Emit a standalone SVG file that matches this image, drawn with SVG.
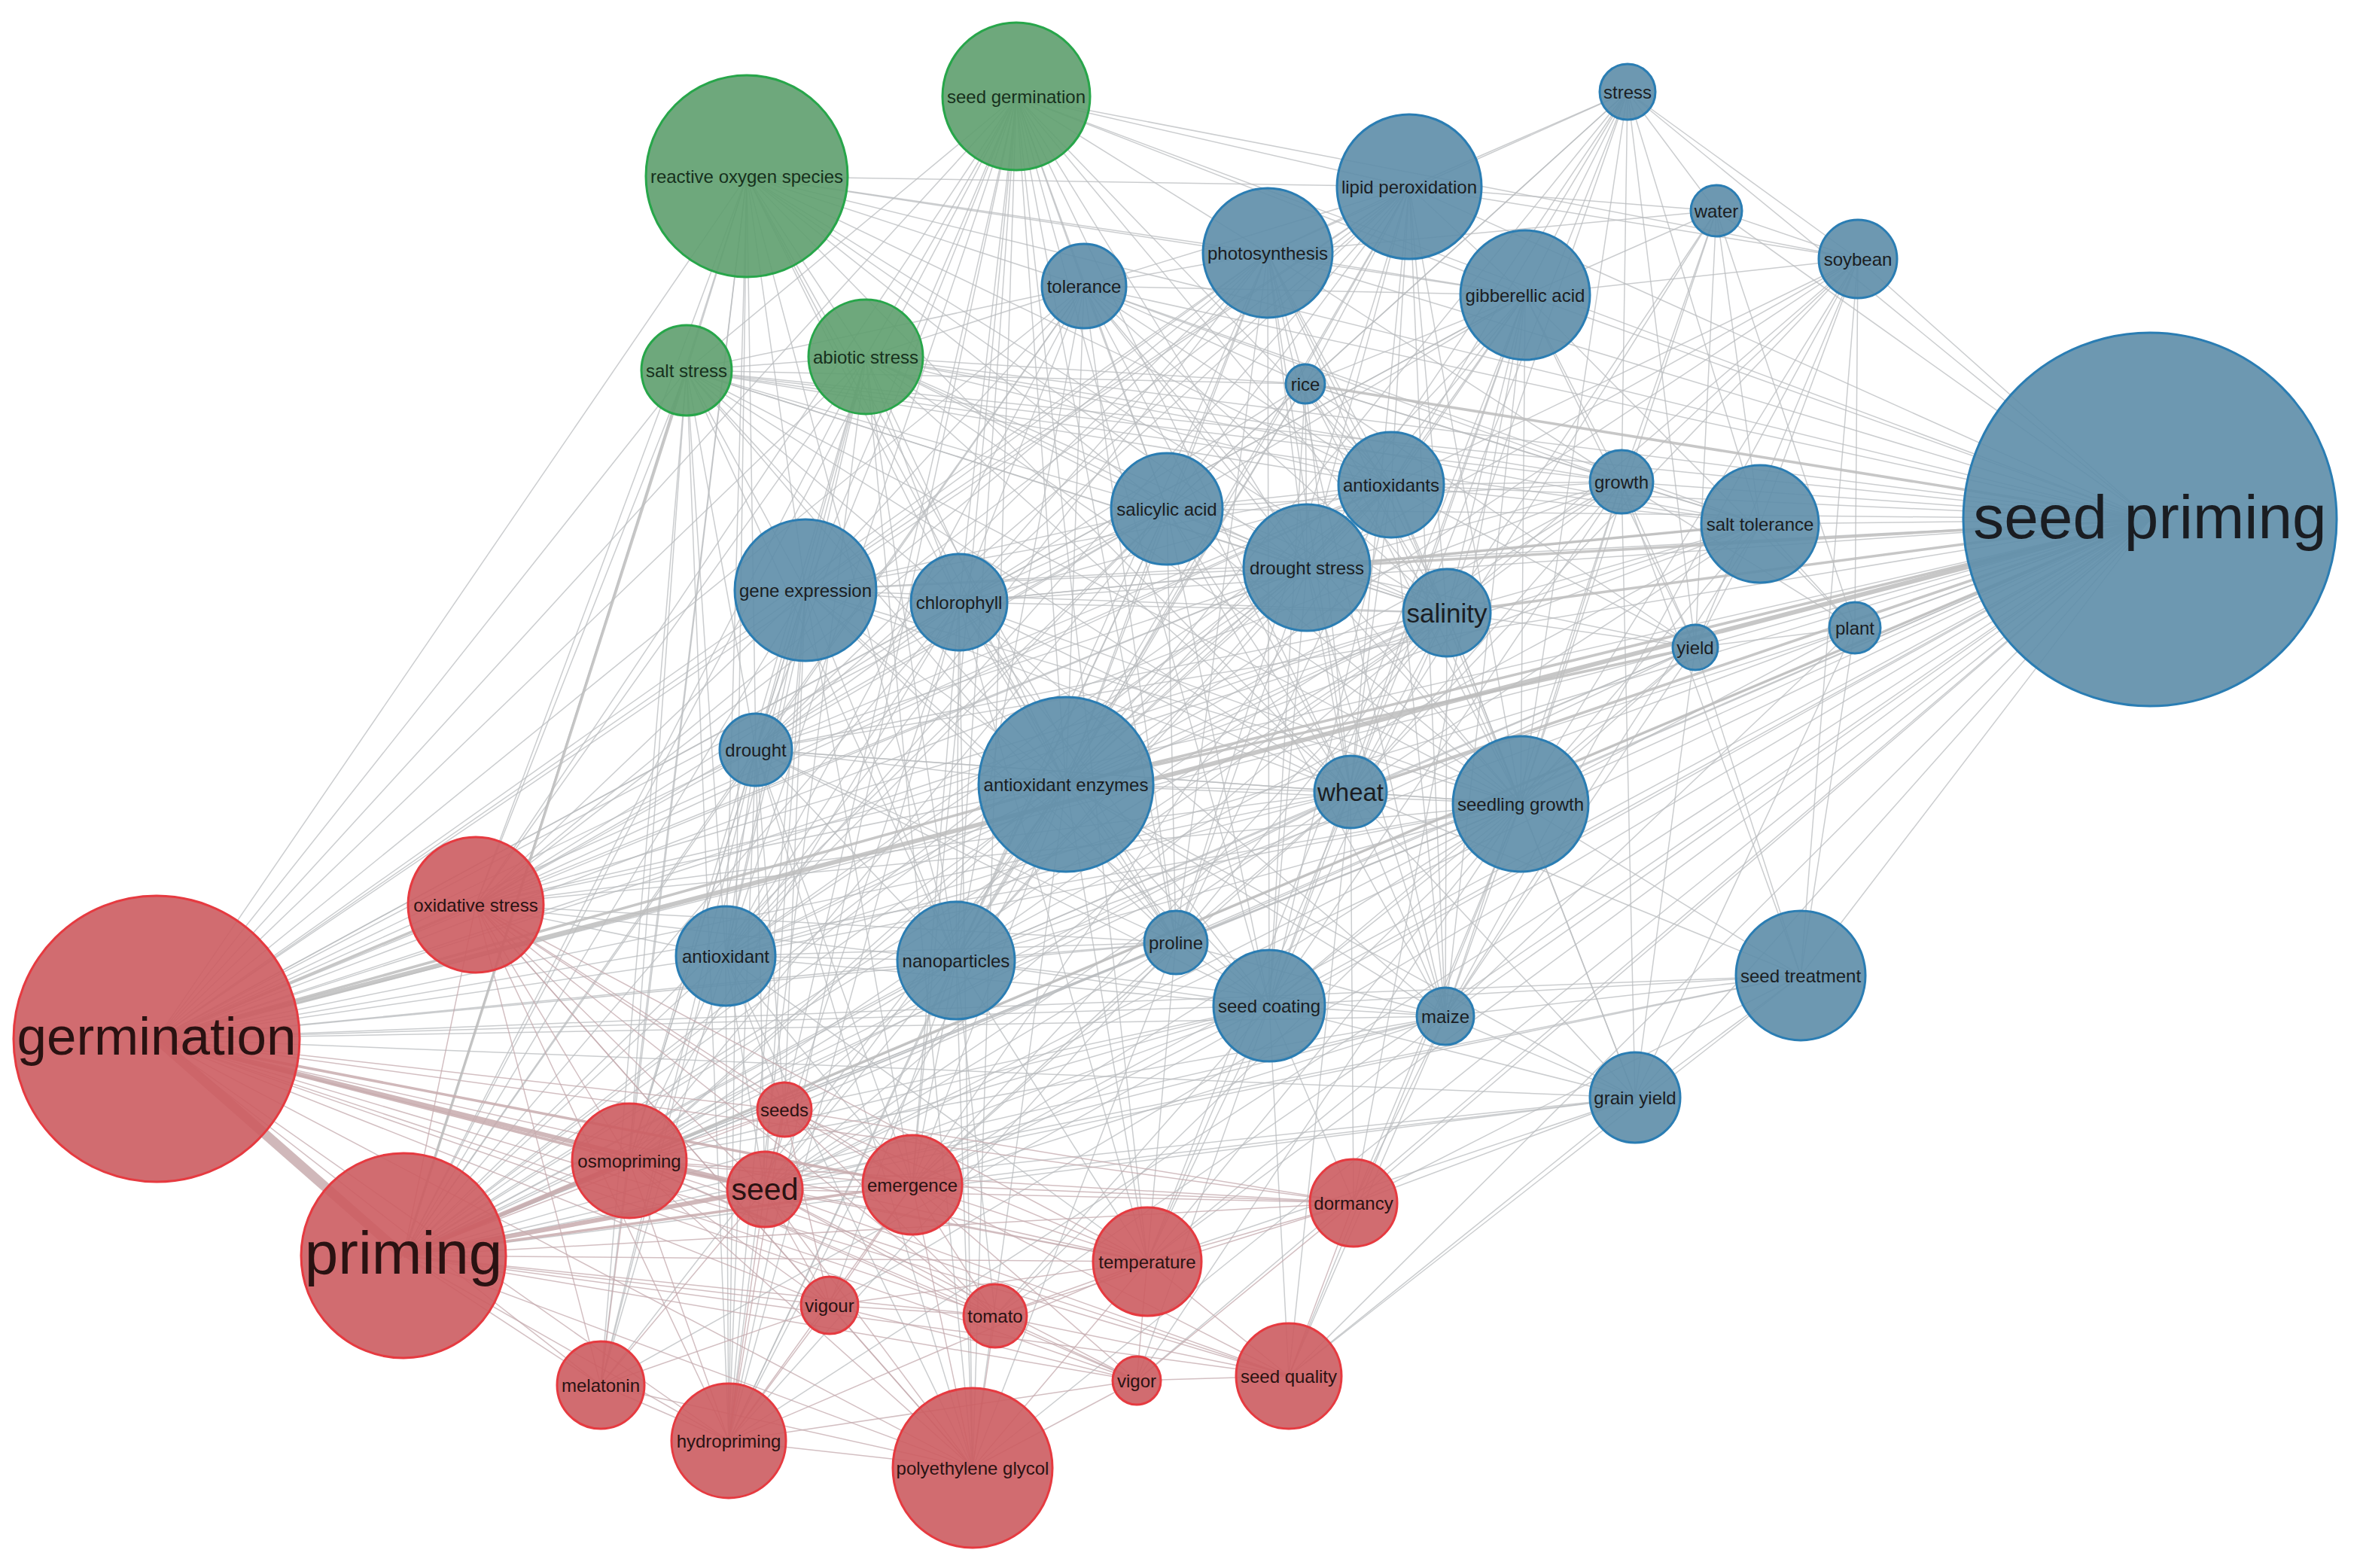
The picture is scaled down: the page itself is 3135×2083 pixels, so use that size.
<svg xmlns="http://www.w3.org/2000/svg" width="3135" height="2083" viewBox="0 0 3135 2083">
<style>
.bg{fill:#ffffff}
#edges line{stroke:#b9bcbf;stroke-width:1.5;stroke-opacity:.75;fill:none}
#edges .r line{stroke:#c4aaad}
#edges .w1 line,#edges line.w1{stroke-width:3.5}
#edges line.w2{stroke-width:6}
#edges line.w3{stroke-width:13}
#edges .thick line{stroke:#bdbdbd;stroke-opacity:.85}
#edges .thick line.rr{stroke:#c8abae}
.node circle{stroke-width:3;fill-opacity:.9}
.b circle{fill:#5d8da8;stroke:#2a7db3}
.r circle{fill:#cc5c61;stroke:#e63a40}
.g circle{fill:#5e9f6e;stroke:#27a64a}
.node text{font-family:"Liberation Sans",Arial,sans-serif;font-size:24px;text-anchor:middle;dominant-baseline:central;fill:#1a1d22}
.r text{fill:#2a1212}
.g text{fill:#16301c}
</style>
<rect class="bg" x="0" y="0" width="3135" height="2083"/>
<g id="edges">
<g class="thin">
<line x1="2856" y1="690" x2="912" y2="492"/>
<line x1="2856" y1="690" x2="1150" y2="474"/>
<line x1="2856" y1="690" x2="992" y2="234"/>
<line x1="2856" y1="690" x2="1350" y2="128"/>
<line x1="2856" y1="690" x2="2162" y2="122"/>
<line x1="2856" y1="690" x2="1872" y2="248"/>
<line x1="2856" y1="690" x2="2280" y2="280"/>
<line x1="2856" y1="690" x2="2468" y2="344"/>
<line x1="2856" y1="690" x2="1684" y2="336"/>
<line x1="2856" y1="690" x2="1440" y2="380"/>
<line x1="2856" y1="690" x2="2026" y2="392"/>
<line x1="2856" y1="690" x2="1848" y2="644"/>
<line x1="2856" y1="690" x2="2154" y2="640"/>
<line x1="2856" y1="690" x2="1550" y2="676"/>
<line x1="2856" y1="690" x2="2338" y2="696"/>
<line x1="2856" y1="690" x2="1070" y2="784"/>
<line x1="2856" y1="690" x2="1274" y2="800"/>
<line x1="2856" y1="690" x2="2464" y2="834"/>
<line x1="2856" y1="690" x2="2252" y2="860"/>
<line x1="2856" y1="690" x2="1004" y2="996"/>
<line x1="2856" y1="690" x2="2020" y2="1068"/>
<line x1="2856" y1="690" x2="964" y2="1270"/>
<line x1="2856" y1="690" x2="1270" y2="1276"/>
<line x1="2856" y1="690" x2="1562" y2="1252"/>
<line x1="2856" y1="690" x2="1686" y2="1336"/>
<line x1="2856" y1="690" x2="1920" y2="1350"/>
<line x1="2856" y1="690" x2="2392" y2="1296"/>
<line x1="2856" y1="690" x2="2172" y2="1458"/>
<line x1="2856" y1="690" x2="632" y2="1202"/>
<line x1="2856" y1="690" x2="1042" y2="1474"/>
<line x1="2856" y1="690" x2="836" y2="1542"/>
<line x1="2856" y1="690" x2="1016" y2="1580"/>
<line x1="2856" y1="690" x2="1212" y2="1574"/>
<line x1="2856" y1="690" x2="1798" y2="1598"/>
<line x1="2856" y1="690" x2="1524" y2="1676"/>
<line x1="2856" y1="690" x2="1102" y2="1734"/>
<line x1="2856" y1="690" x2="1322" y2="1748"/>
<line x1="2856" y1="690" x2="1712" y2="1828"/>
<line x1="2856" y1="690" x2="1292" y2="1950"/>
<line x1="2856" y1="690" x2="798" y2="1840"/>
<line x1="2856" y1="690" x2="1510" y2="1834"/>
<line x1="2856" y1="690" x2="968" y2="1914"/>
<line x1="208" y1="1380" x2="964" y2="1270"/>
<line x1="208" y1="1380" x2="1270" y2="1276"/>
<line x1="208" y1="1380" x2="1004" y2="996"/>
<line x1="208" y1="1380" x2="1070" y2="784"/>
<line x1="208" y1="1380" x2="1274" y2="800"/>
<line x1="208" y1="1380" x2="912" y2="492"/>
<line x1="208" y1="1380" x2="1150" y2="474"/>
<line x1="208" y1="1380" x2="992" y2="234"/>
<line x1="208" y1="1380" x2="1350" y2="128"/>
<line x1="208" y1="1380" x2="1550" y2="676"/>
<line x1="208" y1="1380" x2="1736" y2="754"/>
<line x1="208" y1="1380" x2="1848" y2="644"/>
<line x1="208" y1="1380" x2="1922" y2="814"/>
<line x1="208" y1="1380" x2="1794" y2="1052"/>
<line x1="208" y1="1380" x2="2020" y2="1068"/>
<line x1="208" y1="1380" x2="1562" y2="1252"/>
<line x1="208" y1="1380" x2="1686" y2="1336"/>
<line x1="208" y1="1380" x2="1920" y2="1350"/>
<line x1="208" y1="1380" x2="2338" y2="696"/>
<line x1="208" y1="1380" x2="2154" y2="640"/>
<line x1="208" y1="1380" x2="2252" y2="860"/>
<line x1="208" y1="1380" x2="1440" y2="380"/>
<line x1="208" y1="1380" x2="1684" y2="336"/>
<line x1="208" y1="1380" x2="1872" y2="248"/>
<line x1="208" y1="1380" x2="2026" y2="392"/>
<line x1="208" y1="1380" x2="2392" y2="1296"/>
<line x1="208" y1="1380" x2="2172" y2="1458"/>
<line x1="536" y1="1668" x2="1416" y2="1042"/>
<line x1="536" y1="1668" x2="964" y2="1270"/>
<line x1="536" y1="1668" x2="1270" y2="1276"/>
<line x1="536" y1="1668" x2="1004" y2="996"/>
<line x1="536" y1="1668" x2="1070" y2="784"/>
<line x1="536" y1="1668" x2="1274" y2="800"/>
<line x1="536" y1="1668" x2="1150" y2="474"/>
<line x1="536" y1="1668" x2="992" y2="234"/>
<line x1="536" y1="1668" x2="1350" y2="128"/>
<line x1="536" y1="1668" x2="1550" y2="676"/>
<line x1="536" y1="1668" x2="1736" y2="754"/>
<line x1="536" y1="1668" x2="1848" y2="644"/>
<line x1="536" y1="1668" x2="1922" y2="814"/>
<line x1="536" y1="1668" x2="1794" y2="1052"/>
<line x1="536" y1="1668" x2="2020" y2="1068"/>
<line x1="536" y1="1668" x2="1562" y2="1252"/>
<line x1="536" y1="1668" x2="1686" y2="1336"/>
<line x1="536" y1="1668" x2="1920" y2="1350"/>
<line x1="536" y1="1668" x2="2338" y2="696"/>
<line x1="536" y1="1668" x2="2154" y2="640"/>
<line x1="536" y1="1668" x2="2252" y2="860"/>
<line x1="536" y1="1668" x2="2172" y2="1458"/>
<line x1="536" y1="1668" x2="2392" y2="1296"/>
<line x1="536" y1="1668" x2="1440" y2="380"/>
<line x1="1416" y1="1042" x2="912" y2="492"/>
<line x1="1416" y1="1042" x2="1150" y2="474"/>
<line x1="1416" y1="1042" x2="992" y2="234"/>
<line x1="1416" y1="1042" x2="1350" y2="128"/>
<line x1="1416" y1="1042" x2="1872" y2="248"/>
<line x1="1416" y1="1042" x2="1684" y2="336"/>
<line x1="1416" y1="1042" x2="1440" y2="380"/>
<line x1="1416" y1="1042" x2="2026" y2="392"/>
<line x1="1416" y1="1042" x2="1734" y2="510"/>
<line x1="1416" y1="1042" x2="1848" y2="644"/>
<line x1="1416" y1="1042" x2="1550" y2="676"/>
<line x1="1416" y1="1042" x2="1736" y2="754"/>
<line x1="1416" y1="1042" x2="1070" y2="784"/>
<line x1="1416" y1="1042" x2="1274" y2="800"/>
<line x1="1416" y1="1042" x2="1922" y2="814"/>
<line x1="1416" y1="1042" x2="1794" y2="1052"/>
<line x1="1416" y1="1042" x2="2020" y2="1068"/>
<line x1="1416" y1="1042" x2="1004" y2="996"/>
<line x1="1416" y1="1042" x2="964" y2="1270"/>
<line x1="1416" y1="1042" x2="1270" y2="1276"/>
<line x1="1416" y1="1042" x2="1562" y2="1252"/>
<line x1="1416" y1="1042" x2="1686" y2="1336"/>
<line x1="1416" y1="1042" x2="1920" y2="1350"/>
<line x1="1416" y1="1042" x2="632" y2="1202"/>
<line x1="1416" y1="1042" x2="836" y2="1542"/>
<line x1="1416" y1="1042" x2="1016" y2="1580"/>
<line x1="1416" y1="1042" x2="1212" y2="1574"/>
<line x1="1416" y1="1042" x2="968" y2="1914"/>
<line x1="1416" y1="1042" x2="1292" y2="1950"/>
<line x1="1416" y1="1042" x2="1524" y2="1676"/>
<line x1="1416" y1="1042" x2="798" y2="1840"/>
<line x1="1416" y1="1042" x2="2172" y2="1458"/>
<line x1="1416" y1="1042" x2="2154" y2="640"/>
<line x1="1416" y1="1042" x2="2338" y2="696"/>
<line x1="1416" y1="1042" x2="2162" y2="122"/>
<line x1="1416" y1="1042" x2="2468" y2="344"/>
<line x1="992" y1="234" x2="912" y2="492"/>
<line x1="992" y1="234" x2="1150" y2="474"/>
<line x1="992" y1="234" x2="632" y2="1202"/>
<line x1="992" y1="234" x2="1070" y2="784"/>
<line x1="992" y1="234" x2="1004" y2="996"/>
<line x1="992" y1="234" x2="964" y2="1270"/>
<line x1="992" y1="234" x2="1872" y2="248"/>
<line x1="992" y1="234" x2="1684" y2="336"/>
<line x1="992" y1="234" x2="1440" y2="380"/>
<line x1="992" y1="234" x2="1550" y2="676"/>
<line x1="992" y1="234" x2="1848" y2="644"/>
<line x1="992" y1="234" x2="1736" y2="754"/>
<line x1="992" y1="234" x2="1274" y2="800"/>
<line x1="992" y1="234" x2="1922" y2="814"/>
<line x1="992" y1="234" x2="1794" y2="1052"/>
<line x1="992" y1="234" x2="1270" y2="1276"/>
<line x1="992" y1="234" x2="1562" y2="1252"/>
<line x1="992" y1="234" x2="968" y2="1914"/>
<line x1="992" y1="234" x2="836" y2="1542"/>
<line x1="992" y1="234" x2="798" y2="1840"/>
<line x1="992" y1="234" x2="2026" y2="392"/>
<line x1="1350" y1="128" x2="912" y2="492"/>
<line x1="1350" y1="128" x2="1150" y2="474"/>
<line x1="1350" y1="128" x2="1070" y2="784"/>
<line x1="1350" y1="128" x2="1274" y2="800"/>
<line x1="1350" y1="128" x2="1004" y2="996"/>
<line x1="1350" y1="128" x2="964" y2="1270"/>
<line x1="1350" y1="128" x2="1270" y2="1276"/>
<line x1="1350" y1="128" x2="632" y2="1202"/>
<line x1="1350" y1="128" x2="1440" y2="380"/>
<line x1="1350" y1="128" x2="1684" y2="336"/>
<line x1="1350" y1="128" x2="2026" y2="392"/>
<line x1="1350" y1="128" x2="1550" y2="676"/>
<line x1="1350" y1="128" x2="1736" y2="754"/>
<line x1="1350" y1="128" x2="1848" y2="644"/>
<line x1="1350" y1="128" x2="1922" y2="814"/>
<line x1="1350" y1="128" x2="1794" y2="1052"/>
<line x1="1350" y1="128" x2="1562" y2="1252"/>
<line x1="1350" y1="128" x2="1686" y2="1336"/>
<line x1="1350" y1="128" x2="1524" y2="1676"/>
<line x1="1350" y1="128" x2="1212" y2="1574"/>
<line x1="1350" y1="128" x2="1016" y2="1580"/>
<line x1="1350" y1="128" x2="968" y2="1914"/>
<line x1="1350" y1="128" x2="1292" y2="1950"/>
<line x1="1350" y1="128" x2="2468" y2="344"/>
<line x1="1350" y1="128" x2="1872" y2="248"/>
<line x1="912" y1="492" x2="1150" y2="474"/>
<line x1="912" y1="492" x2="632" y2="1202"/>
<line x1="912" y1="492" x2="1070" y2="784"/>
<line x1="912" y1="492" x2="1004" y2="996"/>
<line x1="912" y1="492" x2="964" y2="1270"/>
<line x1="912" y1="492" x2="1270" y2="1276"/>
<line x1="912" y1="492" x2="1274" y2="800"/>
<line x1="912" y1="492" x2="1440" y2="380"/>
<line x1="912" y1="492" x2="1550" y2="676"/>
<line x1="912" y1="492" x2="1736" y2="754"/>
<line x1="912" y1="492" x2="1848" y2="644"/>
<line x1="912" y1="492" x2="1922" y2="814"/>
<line x1="912" y1="492" x2="1794" y2="1052"/>
<line x1="912" y1="492" x2="2020" y2="1068"/>
<line x1="912" y1="492" x2="1734" y2="510"/>
<line x1="912" y1="492" x2="2338" y2="696"/>
<line x1="912" y1="492" x2="2154" y2="640"/>
<line x1="912" y1="492" x2="968" y2="1914"/>
<line x1="912" y1="492" x2="836" y2="1542"/>
<line x1="912" y1="492" x2="798" y2="1840"/>
<line x1="912" y1="492" x2="1562" y2="1252"/>
<line x1="1150" y1="474" x2="632" y2="1202"/>
<line x1="1150" y1="474" x2="1070" y2="784"/>
<line x1="1150" y1="474" x2="1004" y2="996"/>
<line x1="1150" y1="474" x2="964" y2="1270"/>
<line x1="1150" y1="474" x2="1274" y2="800"/>
<line x1="1150" y1="474" x2="1440" y2="380"/>
<line x1="1150" y1="474" x2="1550" y2="676"/>
<line x1="1150" y1="474" x2="1736" y2="754"/>
<line x1="1150" y1="474" x2="1848" y2="644"/>
<line x1="1150" y1="474" x2="1922" y2="814"/>
<line x1="1150" y1="474" x2="1794" y2="1052"/>
<line x1="1150" y1="474" x2="2020" y2="1068"/>
<line x1="1150" y1="474" x2="1734" y2="510"/>
<line x1="1150" y1="474" x2="1270" y2="1276"/>
<line x1="1150" y1="474" x2="2154" y2="640"/>
<line x1="1150" y1="474" x2="968" y2="1914"/>
<line x1="1150" y1="474" x2="1292" y2="1950"/>
<line x1="1150" y1="474" x2="836" y2="1542"/>
<line x1="1150" y1="474" x2="2338" y2="696"/>
<line x1="2162" y1="122" x2="1872" y2="248"/>
<line x1="2162" y1="122" x2="1684" y2="336"/>
<line x1="2162" y1="122" x2="2026" y2="392"/>
<line x1="2162" y1="122" x2="2280" y2="280"/>
<line x1="2162" y1="122" x2="2468" y2="344"/>
<line x1="2162" y1="122" x2="1734" y2="510"/>
<line x1="2162" y1="122" x2="1848" y2="644"/>
<line x1="2162" y1="122" x2="2154" y2="640"/>
<line x1="2162" y1="122" x2="1922" y2="814"/>
<line x1="2162" y1="122" x2="2252" y2="860"/>
<line x1="2162" y1="122" x2="1736" y2="754"/>
<line x1="2162" y1="122" x2="1550" y2="676"/>
<line x1="2162" y1="122" x2="2338" y2="696"/>
<line x1="2162" y1="122" x2="2020" y2="1068"/>
<line x1="2162" y1="122" x2="1794" y2="1052"/>
<line x1="1872" y1="248" x2="1684" y2="336"/>
<line x1="1872" y1="248" x2="1440" y2="380"/>
<line x1="1872" y1="248" x2="2026" y2="392"/>
<line x1="1872" y1="248" x2="1734" y2="510"/>
<line x1="1872" y1="248" x2="1848" y2="644"/>
<line x1="1872" y1="248" x2="1550" y2="676"/>
<line x1="1872" y1="248" x2="1736" y2="754"/>
<line x1="1872" y1="248" x2="1922" y2="814"/>
<line x1="1872" y1="248" x2="1274" y2="800"/>
<line x1="1872" y1="248" x2="1070" y2="784"/>
<line x1="1872" y1="248" x2="1794" y2="1052"/>
<line x1="1872" y1="248" x2="1562" y2="1252"/>
<line x1="1872" y1="248" x2="1270" y2="1276"/>
<line x1="1872" y1="248" x2="632" y2="1202"/>
<line x1="1872" y1="248" x2="964" y2="1270"/>
<line x1="1872" y1="248" x2="1004" y2="996"/>
<line x1="1872" y1="248" x2="2280" y2="280"/>
<line x1="1872" y1="248" x2="2468" y2="344"/>
<line x1="1872" y1="248" x2="2020" y2="1068"/>
<line x1="1872" y1="248" x2="1920" y2="1350"/>
<line x1="2280" y1="280" x2="2026" y2="392"/>
<line x1="2280" y1="280" x2="2468" y2="344"/>
<line x1="2280" y1="280" x2="2154" y2="640"/>
<line x1="2280" y1="280" x2="2252" y2="860"/>
<line x1="2280" y1="280" x2="1922" y2="814"/>
<line x1="2280" y1="280" x2="2020" y2="1068"/>
<line x1="2280" y1="280" x2="1684" y2="336"/>
<line x1="2280" y1="280" x2="2464" y2="834"/>
<line x1="2280" y1="280" x2="2338" y2="696"/>
<line x1="2280" y1="280" x2="1794" y2="1052"/>
<line x1="2468" y1="344" x2="2026" y2="392"/>
<line x1="2468" y1="344" x2="2154" y2="640"/>
<line x1="2468" y1="344" x2="2252" y2="860"/>
<line x1="2468" y1="344" x2="2464" y2="834"/>
<line x1="2468" y1="344" x2="2338" y2="696"/>
<line x1="2468" y1="344" x2="2020" y2="1068"/>
<line x1="2468" y1="344" x2="1794" y2="1052"/>
<line x1="2468" y1="344" x2="1920" y2="1350"/>
<line x1="2468" y1="344" x2="1922" y2="814"/>
<line x1="2468" y1="344" x2="1736" y2="754"/>
<line x1="2468" y1="344" x2="2392" y2="1296"/>
<line x1="2468" y1="344" x2="1848" y2="644"/>
<line x1="1684" y1="336" x2="1440" y2="380"/>
<line x1="1684" y1="336" x2="2026" y2="392"/>
<line x1="1684" y1="336" x2="1734" y2="510"/>
<line x1="1684" y1="336" x2="1848" y2="644"/>
<line x1="1684" y1="336" x2="1550" y2="676"/>
<line x1="1684" y1="336" x2="1736" y2="754"/>
<line x1="1684" y1="336" x2="1274" y2="800"/>
<line x1="1684" y1="336" x2="1070" y2="784"/>
<line x1="1684" y1="336" x2="1922" y2="814"/>
<line x1="1684" y1="336" x2="1794" y2="1052"/>
<line x1="1684" y1="336" x2="2020" y2="1068"/>
<line x1="1684" y1="336" x2="1562" y2="1252"/>
<line x1="1684" y1="336" x2="1270" y2="1276"/>
<line x1="1684" y1="336" x2="1004" y2="996"/>
<line x1="1684" y1="336" x2="964" y2="1270"/>
<line x1="1684" y1="336" x2="1920" y2="1350"/>
<line x1="1684" y1="336" x2="1686" y2="1336"/>
<line x1="1684" y1="336" x2="2154" y2="640"/>
<line x1="1684" y1="336" x2="632" y2="1202"/>
<line x1="1440" y1="380" x2="2026" y2="392"/>
<line x1="1440" y1="380" x2="1734" y2="510"/>
<line x1="1440" y1="380" x2="1848" y2="644"/>
<line x1="1440" y1="380" x2="1550" y2="676"/>
<line x1="1440" y1="380" x2="1736" y2="754"/>
<line x1="1440" y1="380" x2="1274" y2="800"/>
<line x1="1440" y1="380" x2="1070" y2="784"/>
<line x1="1440" y1="380" x2="1922" y2="814"/>
<line x1="1440" y1="380" x2="1794" y2="1052"/>
<line x1="1440" y1="380" x2="2020" y2="1068"/>
<line x1="1440" y1="380" x2="1562" y2="1252"/>
<line x1="1440" y1="380" x2="1270" y2="1276"/>
<line x1="1440" y1="380" x2="1004" y2="996"/>
<line x1="1440" y1="380" x2="964" y2="1270"/>
<line x1="1440" y1="380" x2="2154" y2="640"/>
<line x1="1440" y1="380" x2="2338" y2="696"/>
<line x1="2026" y1="392" x2="1734" y2="510"/>
<line x1="2026" y1="392" x2="1848" y2="644"/>
<line x1="2026" y1="392" x2="1550" y2="676"/>
<line x1="2026" y1="392" x2="1736" y2="754"/>
<line x1="2026" y1="392" x2="1922" y2="814"/>
<line x1="2026" y1="392" x2="1794" y2="1052"/>
<line x1="2026" y1="392" x2="2020" y2="1068"/>
<line x1="2026" y1="392" x2="2154" y2="640"/>
<line x1="2026" y1="392" x2="2252" y2="860"/>
<line x1="2026" y1="392" x2="2464" y2="834"/>
<line x1="2026" y1="392" x2="1920" y2="1350"/>
<line x1="2026" y1="392" x2="1686" y2="1336"/>
<line x1="2026" y1="392" x2="1524" y2="1676"/>
<line x1="2026" y1="392" x2="1798" y2="1598"/>
<line x1="2026" y1="392" x2="1212" y2="1574"/>
<line x1="2026" y1="392" x2="1274" y2="800"/>
<line x1="1734" y1="510" x2="1848" y2="644"/>
<line x1="1734" y1="510" x2="1550" y2="676"/>
<line x1="1734" y1="510" x2="1736" y2="754"/>
<line x1="1734" y1="510" x2="1922" y2="814"/>
<line x1="1734" y1="510" x2="1794" y2="1052"/>
<line x1="1734" y1="510" x2="2020" y2="1068"/>
<line x1="1734" y1="510" x2="2154" y2="640"/>
<line x1="1734" y1="510" x2="2338" y2="696"/>
<line x1="1734" y1="510" x2="2252" y2="860"/>
<line x1="1734" y1="510" x2="1686" y2="1336"/>
<line x1="1734" y1="510" x2="1270" y2="1276"/>
<line x1="1734" y1="510" x2="1274" y2="800"/>
<line x1="1848" y1="644" x2="1550" y2="676"/>
<line x1="1848" y1="644" x2="1736" y2="754"/>
<line x1="1848" y1="644" x2="1922" y2="814"/>
<line x1="1848" y1="644" x2="1794" y2="1052"/>
<line x1="1848" y1="644" x2="2020" y2="1068"/>
<line x1="1848" y1="644" x2="2154" y2="640"/>
<line x1="1848" y1="644" x2="2338" y2="696"/>
<line x1="1848" y1="644" x2="2252" y2="860"/>
<line x1="1848" y1="644" x2="1274" y2="800"/>
<line x1="1848" y1="644" x2="1070" y2="784"/>
<line x1="1848" y1="644" x2="1270" y2="1276"/>
<line x1="1848" y1="644" x2="1562" y2="1252"/>
<line x1="1848" y1="644" x2="1686" y2="1336"/>
<line x1="1848" y1="644" x2="1920" y2="1350"/>
<line x1="1848" y1="644" x2="964" y2="1270"/>
<line x1="1848" y1="644" x2="1004" y2="996"/>
<line x1="1848" y1="644" x2="632" y2="1202"/>
<line x1="1848" y1="644" x2="836" y2="1542"/>
<line x1="2154" y1="640" x2="2338" y2="696"/>
<line x1="2154" y1="640" x2="2252" y2="860"/>
<line x1="2154" y1="640" x2="2464" y2="834"/>
<line x1="2154" y1="640" x2="1922" y2="814"/>
<line x1="2154" y1="640" x2="2020" y2="1068"/>
<line x1="2154" y1="640" x2="1794" y2="1052"/>
<line x1="2154" y1="640" x2="1920" y2="1350"/>
<line x1="2154" y1="640" x2="1686" y2="1336"/>
<line x1="2154" y1="640" x2="2392" y2="1296"/>
<line x1="2154" y1="640" x2="2172" y2="1458"/>
<line x1="2154" y1="640" x2="1736" y2="754"/>
<line x1="2154" y1="640" x2="1550" y2="676"/>
<line x1="1550" y1="676" x2="1736" y2="754"/>
<line x1="1550" y1="676" x2="1274" y2="800"/>
<line x1="1550" y1="676" x2="1070" y2="784"/>
<line x1="1550" y1="676" x2="1922" y2="814"/>
<line x1="1550" y1="676" x2="1794" y2="1052"/>
<line x1="1550" y1="676" x2="2020" y2="1068"/>
<line x1="1550" y1="676" x2="1562" y2="1252"/>
<line x1="1550" y1="676" x2="1270" y2="1276"/>
<line x1="1550" y1="676" x2="1004" y2="996"/>
<line x1="1550" y1="676" x2="964" y2="1270"/>
<line x1="1550" y1="676" x2="632" y2="1202"/>
<line x1="1550" y1="676" x2="1686" y2="1336"/>
<line x1="1550" y1="676" x2="1920" y2="1350"/>
<line x1="1550" y1="676" x2="836" y2="1542"/>
<line x1="1550" y1="676" x2="968" y2="1914"/>
<line x1="2338" y1="696" x2="1922" y2="814"/>
<line x1="2338" y1="696" x2="2020" y2="1068"/>
<line x1="2338" y1="696" x2="2252" y2="860"/>
<line x1="2338" y1="696" x2="2464" y2="834"/>
<line x1="2338" y1="696" x2="1794" y2="1052"/>
<line x1="2338" y1="696" x2="1920" y2="1350"/>
<line x1="2338" y1="696" x2="1274" y2="800"/>
<line x1="1736" y1="754" x2="1274" y2="800"/>
<line x1="1736" y1="754" x2="1070" y2="784"/>
<line x1="1736" y1="754" x2="1922" y2="814"/>
<line x1="1736" y1="754" x2="1794" y2="1052"/>
<line x1="1736" y1="754" x2="2020" y2="1068"/>
<line x1="1736" y1="754" x2="1562" y2="1252"/>
<line x1="1736" y1="754" x2="1270" y2="1276"/>
<line x1="1736" y1="754" x2="1004" y2="996"/>
<line x1="1736" y1="754" x2="964" y2="1270"/>
<line x1="1736" y1="754" x2="1686" y2="1336"/>
<line x1="1736" y1="754" x2="1920" y2="1350"/>
<line x1="1736" y1="754" x2="2252" y2="860"/>
<line x1="1736" y1="754" x2="632" y2="1202"/>
<line x1="1070" y1="784" x2="1274" y2="800"/>
<line x1="1070" y1="784" x2="1004" y2="996"/>
<line x1="1070" y1="784" x2="964" y2="1270"/>
<line x1="1070" y1="784" x2="1270" y2="1276"/>
<line x1="1070" y1="784" x2="632" y2="1202"/>
<line x1="1070" y1="784" x2="1922" y2="814"/>
<line x1="1070" y1="784" x2="1794" y2="1052"/>
<line x1="1070" y1="784" x2="2020" y2="1068"/>
<line x1="1070" y1="784" x2="1562" y2="1252"/>
<line x1="1070" y1="784" x2="1686" y2="1336"/>
<line x1="1070" y1="784" x2="836" y2="1542"/>
<line x1="1070" y1="784" x2="1016" y2="1580"/>
<line x1="1070" y1="784" x2="1042" y2="1474"/>
<line x1="1070" y1="784" x2="1212" y2="1574"/>
<line x1="1070" y1="784" x2="968" y2="1914"/>
<line x1="1070" y1="784" x2="798" y2="1840"/>
<line x1="1274" y1="800" x2="1004" y2="996"/>
<line x1="1274" y1="800" x2="964" y2="1270"/>
<line x1="1274" y1="800" x2="1270" y2="1276"/>
<line x1="1274" y1="800" x2="1922" y2="814"/>
<line x1="1274" y1="800" x2="1794" y2="1052"/>
<line x1="1274" y1="800" x2="2020" y2="1068"/>
<line x1="1274" y1="800" x2="1562" y2="1252"/>
<line x1="1274" y1="800" x2="1686" y2="1336"/>
<line x1="1274" y1="800" x2="1920" y2="1350"/>
<line x1="1274" y1="800" x2="632" y2="1202"/>
<line x1="1274" y1="800" x2="836" y2="1542"/>
<line x1="1274" y1="800" x2="1016" y2="1580"/>
<line x1="1274" y1="800" x2="1212" y2="1574"/>
<line x1="1274" y1="800" x2="1524" y2="1676"/>
<line x1="1274" y1="800" x2="968" y2="1914"/>
<line x1="1274" y1="800" x2="1292" y2="1950"/>
<line x1="1922" y1="814" x2="1794" y2="1052"/>
<line x1="1922" y1="814" x2="2020" y2="1068"/>
<line x1="1922" y1="814" x2="1562" y2="1252"/>
<line x1="1922" y1="814" x2="1686" y2="1336"/>
<line x1="1922" y1="814" x2="1920" y2="1350"/>
<line x1="1922" y1="814" x2="2252" y2="860"/>
<line x1="1922" y1="814" x2="1270" y2="1276"/>
<line x1="1922" y1="814" x2="964" y2="1270"/>
<line x1="1922" y1="814" x2="1004" y2="996"/>
<line x1="1922" y1="814" x2="632" y2="1202"/>
<line x1="1922" y1="814" x2="836" y2="1542"/>
<line x1="1922" y1="814" x2="1016" y2="1580"/>
<line x1="1922" y1="814" x2="1212" y2="1574"/>
<line x1="1922" y1="814" x2="2172" y2="1458"/>
<line x1="2464" y1="834" x2="2252" y2="860"/>
<line x1="2464" y1="834" x2="2392" y2="1296"/>
<line x1="2464" y1="834" x2="2020" y2="1068"/>
<line x1="2464" y1="834" x2="2172" y2="1458"/>
<line x1="2464" y1="834" x2="1794" y2="1052"/>
<line x1="2464" y1="834" x2="1920" y2="1350"/>
<line x1="2252" y1="860" x2="2020" y2="1068"/>
<line x1="2252" y1="860" x2="1794" y2="1052"/>
<line x1="2252" y1="860" x2="1920" y2="1350"/>
<line x1="2252" y1="860" x2="2392" y2="1296"/>
<line x1="2252" y1="860" x2="2172" y2="1458"/>
<line x1="2252" y1="860" x2="1686" y2="1336"/>
<line x1="2252" y1="860" x2="1270" y2="1276"/>
<line x1="1004" y1="996" x2="964" y2="1270"/>
<line x1="1004" y1="996" x2="1270" y2="1276"/>
<line x1="1004" y1="996" x2="632" y2="1202"/>
<line x1="1004" y1="996" x2="1794" y2="1052"/>
<line x1="1004" y1="996" x2="2020" y2="1068"/>
<line x1="1004" y1="996" x2="1562" y2="1252"/>
<line x1="1004" y1="996" x2="1686" y2="1336"/>
<line x1="1004" y1="996" x2="836" y2="1542"/>
<line x1="1004" y1="996" x2="1016" y2="1580"/>
<line x1="1004" y1="996" x2="1042" y2="1474"/>
<line x1="1004" y1="996" x2="1212" y2="1574"/>
<line x1="1004" y1="996" x2="968" y2="1914"/>
<line x1="1004" y1="996" x2="1292" y2="1950"/>
<line x1="1004" y1="996" x2="798" y2="1840"/>
<line x1="1794" y1="1052" x2="2020" y2="1068"/>
<line x1="1794" y1="1052" x2="1562" y2="1252"/>
<line x1="1794" y1="1052" x2="1686" y2="1336"/>
<line x1="1794" y1="1052" x2="1920" y2="1350"/>
<line x1="1794" y1="1052" x2="2172" y2="1458"/>
<line x1="1794" y1="1052" x2="1270" y2="1276"/>
<line x1="1794" y1="1052" x2="964" y2="1270"/>
<line x1="1794" y1="1052" x2="632" y2="1202"/>
<line x1="1794" y1="1052" x2="836" y2="1542"/>
<line x1="1794" y1="1052" x2="1016" y2="1580"/>
<line x1="1794" y1="1052" x2="1212" y2="1574"/>
<line x1="1794" y1="1052" x2="1524" y2="1676"/>
<line x1="1794" y1="1052" x2="1798" y2="1598"/>
<line x1="1794" y1="1052" x2="1712" y2="1828"/>
<line x1="1794" y1="1052" x2="2392" y2="1296"/>
<line x1="2020" y1="1068" x2="1562" y2="1252"/>
<line x1="2020" y1="1068" x2="1686" y2="1336"/>
<line x1="2020" y1="1068" x2="1920" y2="1350"/>
<line x1="2020" y1="1068" x2="2172" y2="1458"/>
<line x1="2020" y1="1068" x2="2392" y2="1296"/>
<line x1="2020" y1="1068" x2="1270" y2="1276"/>
<line x1="2020" y1="1068" x2="964" y2="1270"/>
<line x1="2020" y1="1068" x2="632" y2="1202"/>
<line x1="2020" y1="1068" x2="836" y2="1542"/>
<line x1="2020" y1="1068" x2="1016" y2="1580"/>
<line x1="2020" y1="1068" x2="1212" y2="1574"/>
<line x1="2020" y1="1068" x2="1524" y2="1676"/>
<line x1="2020" y1="1068" x2="1798" y2="1598"/>
<line x1="2020" y1="1068" x2="1322" y2="1748"/>
<line x1="2020" y1="1068" x2="1510" y2="1834"/>
<line x1="2020" y1="1068" x2="1712" y2="1828"/>
<line x1="964" y1="1270" x2="1270" y2="1276"/>
<line x1="964" y1="1270" x2="1562" y2="1252"/>
<line x1="964" y1="1270" x2="1686" y2="1336"/>
<line x1="964" y1="1270" x2="1524" y2="1676"/>
<line x1="1270" y1="1276" x2="1562" y2="1252"/>
<line x1="1270" y1="1276" x2="1686" y2="1336"/>
<line x1="1270" y1="1276" x2="1920" y2="1350"/>
<line x1="1562" y1="1252" x2="1686" y2="1336"/>
<line x1="1562" y1="1252" x2="1920" y2="1350"/>
<line x1="1686" y1="1336" x2="1920" y2="1350"/>
<line x1="1686" y1="1336" x2="2172" y2="1458"/>
<line x1="1686" y1="1336" x2="2392" y2="1296"/>
<line x1="1920" y1="1350" x2="2172" y2="1458"/>
<line x1="1920" y1="1350" x2="2392" y2="1296"/>
<line x1="2392" y1="1296" x2="2172" y2="1458"/>
<line x1="964" y1="1270" x2="632" y2="1202"/>
<line x1="964" y1="1270" x2="836" y2="1542"/>
<line x1="964" y1="1270" x2="1016" y2="1580"/>
<line x1="964" y1="1270" x2="1042" y2="1474"/>
<line x1="964" y1="1270" x2="1212" y2="1574"/>
<line x1="964" y1="1270" x2="968" y2="1914"/>
<line x1="964" y1="1270" x2="1292" y2="1950"/>
<line x1="964" y1="1270" x2="798" y2="1840"/>
<line x1="1270" y1="1276" x2="632" y2="1202"/>
<line x1="1270" y1="1276" x2="836" y2="1542"/>
<line x1="1270" y1="1276" x2="1016" y2="1580"/>
<line x1="1270" y1="1276" x2="1042" y2="1474"/>
<line x1="1270" y1="1276" x2="1212" y2="1574"/>
<line x1="1270" y1="1276" x2="1524" y2="1676"/>
<line x1="1270" y1="1276" x2="968" y2="1914"/>
<line x1="1270" y1="1276" x2="1292" y2="1950"/>
<line x1="1270" y1="1276" x2="1322" y2="1748"/>
<line x1="1270" y1="1276" x2="1102" y2="1734"/>
<line x1="1562" y1="1252" x2="632" y2="1202"/>
<line x1="1562" y1="1252" x2="836" y2="1542"/>
<line x1="1562" y1="1252" x2="1016" y2="1580"/>
<line x1="1562" y1="1252" x2="1212" y2="1574"/>
<line x1="1562" y1="1252" x2="1524" y2="1676"/>
<line x1="1562" y1="1252" x2="968" y2="1914"/>
<line x1="1562" y1="1252" x2="1292" y2="1950"/>
<line x1="1686" y1="1336" x2="1212" y2="1574"/>
<line x1="1686" y1="1336" x2="1016" y2="1580"/>
<line x1="1686" y1="1336" x2="1524" y2="1676"/>
<line x1="1686" y1="1336" x2="1798" y2="1598"/>
<line x1="1686" y1="1336" x2="1712" y2="1828"/>
<line x1="1686" y1="1336" x2="1510" y2="1834"/>
<line x1="1686" y1="1336" x2="1322" y2="1748"/>
<line x1="1686" y1="1336" x2="836" y2="1542"/>
<line x1="1686" y1="1336" x2="1042" y2="1474"/>
<line x1="1920" y1="1350" x2="1212" y2="1574"/>
<line x1="1920" y1="1350" x2="1524" y2="1676"/>
<line x1="1920" y1="1350" x2="1798" y2="1598"/>
<line x1="1920" y1="1350" x2="1712" y2="1828"/>
<line x1="1920" y1="1350" x2="1016" y2="1580"/>
<line x1="1920" y1="1350" x2="836" y2="1542"/>
<line x1="2392" y1="1296" x2="1712" y2="1828"/>
<line x1="2392" y1="1296" x2="1798" y2="1598"/>
<line x1="2392" y1="1296" x2="1016" y2="1580"/>
<line x1="2172" y1="1458" x2="1798" y2="1598"/>
<line x1="2172" y1="1458" x2="1712" y2="1828"/>
<line x1="2172" y1="1458" x2="1524" y2="1676"/>
<line x1="2172" y1="1458" x2="1016" y2="1580"/>
<line x1="2172" y1="1458" x2="1212" y2="1574"/>
</g>
<g class="r">
<line x1="208" y1="1380" x2="1042" y2="1474"/>
<line x1="208" y1="1380" x2="1524" y2="1676"/>
<line x1="208" y1="1380" x2="1798" y2="1598"/>
<line x1="208" y1="1380" x2="1712" y2="1828"/>
<line x1="208" y1="1380" x2="1102" y2="1734"/>
<line x1="208" y1="1380" x2="1322" y2="1748"/>
<line x1="208" y1="1380" x2="1510" y2="1834"/>
<line x1="208" y1="1380" x2="968" y2="1914"/>
<line x1="208" y1="1380" x2="1292" y2="1950"/>
<line x1="208" y1="1380" x2="798" y2="1840"/>
<line x1="536" y1="1668" x2="1042" y2="1474"/>
<line x1="536" y1="1668" x2="1524" y2="1676"/>
<line x1="536" y1="1668" x2="1798" y2="1598"/>
<line x1="536" y1="1668" x2="1102" y2="1734"/>
<line x1="536" y1="1668" x2="1322" y2="1748"/>
<line x1="536" y1="1668" x2="1510" y2="1834"/>
<line x1="536" y1="1668" x2="1712" y2="1828"/>
<line x1="536" y1="1668" x2="968" y2="1914"/>
<line x1="536" y1="1668" x2="1292" y2="1950"/>
<line x1="536" y1="1668" x2="798" y2="1840"/>
<line x1="536" y1="1668" x2="632" y2="1202"/>
<line x1="632" y1="1202" x2="836" y2="1542"/>
<line x1="632" y1="1202" x2="1016" y2="1580"/>
<line x1="632" y1="1202" x2="1042" y2="1474"/>
<line x1="632" y1="1202" x2="1212" y2="1574"/>
<line x1="632" y1="1202" x2="968" y2="1914"/>
<line x1="632" y1="1202" x2="1292" y2="1950"/>
<line x1="632" y1="1202" x2="798" y2="1840"/>
<line x1="632" y1="1202" x2="1524" y2="1676"/>
<line x1="632" y1="1202" x2="1102" y2="1734"/>
<line x1="632" y1="1202" x2="1322" y2="1748"/>
<line x1="1042" y1="1474" x2="836" y2="1542"/>
<line x1="1042" y1="1474" x2="1016" y2="1580"/>
<line x1="1042" y1="1474" x2="1212" y2="1574"/>
<line x1="1042" y1="1474" x2="1524" y2="1676"/>
<line x1="1042" y1="1474" x2="968" y2="1914"/>
<line x1="1042" y1="1474" x2="1102" y2="1734"/>
<line x1="1042" y1="1474" x2="1322" y2="1748"/>
<line x1="1042" y1="1474" x2="1798" y2="1598"/>
<line x1="836" y1="1542" x2="1212" y2="1574"/>
<line x1="836" y1="1542" x2="1524" y2="1676"/>
<line x1="836" y1="1542" x2="968" y2="1914"/>
<line x1="836" y1="1542" x2="1292" y2="1950"/>
<line x1="836" y1="1542" x2="798" y2="1840"/>
<line x1="836" y1="1542" x2="1102" y2="1734"/>
<line x1="836" y1="1542" x2="1322" y2="1748"/>
<line x1="836" y1="1542" x2="1510" y2="1834"/>
<line x1="836" y1="1542" x2="1798" y2="1598"/>
<line x1="836" y1="1542" x2="1712" y2="1828"/>
<line x1="1016" y1="1580" x2="1212" y2="1574"/>
<line x1="1016" y1="1580" x2="1524" y2="1676"/>
<line x1="1016" y1="1580" x2="1798" y2="1598"/>
<line x1="1016" y1="1580" x2="1102" y2="1734"/>
<line x1="1016" y1="1580" x2="1322" y2="1748"/>
<line x1="1016" y1="1580" x2="1510" y2="1834"/>
<line x1="1016" y1="1580" x2="1712" y2="1828"/>
<line x1="1016" y1="1580" x2="968" y2="1914"/>
<line x1="1016" y1="1580" x2="1292" y2="1950"/>
<line x1="1016" y1="1580" x2="798" y2="1840"/>
<line x1="1212" y1="1574" x2="1524" y2="1676"/>
<line x1="1212" y1="1574" x2="1798" y2="1598"/>
<line x1="1212" y1="1574" x2="1102" y2="1734"/>
<line x1="1212" y1="1574" x2="1322" y2="1748"/>
<line x1="1212" y1="1574" x2="1510" y2="1834"/>
<line x1="1212" y1="1574" x2="1712" y2="1828"/>
<line x1="1212" y1="1574" x2="968" y2="1914"/>
<line x1="1212" y1="1574" x2="1292" y2="1950"/>
<line x1="1798" y1="1598" x2="1524" y2="1676"/>
<line x1="1798" y1="1598" x2="1712" y2="1828"/>
<line x1="1798" y1="1598" x2="1510" y2="1834"/>
<line x1="1798" y1="1598" x2="1322" y2="1748"/>
<line x1="1524" y1="1676" x2="1102" y2="1734"/>
<line x1="1524" y1="1676" x2="1322" y2="1748"/>
<line x1="1524" y1="1676" x2="1510" y2="1834"/>
<line x1="1524" y1="1676" x2="1712" y2="1828"/>
<line x1="1524" y1="1676" x2="1292" y2="1950"/>
<line x1="1524" y1="1676" x2="968" y2="1914"/>
<line x1="1102" y1="1734" x2="1322" y2="1748"/>
<line x1="1102" y1="1734" x2="1510" y2="1834"/>
<line x1="1102" y1="1734" x2="968" y2="1914"/>
<line x1="1102" y1="1734" x2="1292" y2="1950"/>
<line x1="1322" y1="1748" x2="1510" y2="1834"/>
<line x1="1322" y1="1748" x2="1292" y2="1950"/>
<line x1="1322" y1="1748" x2="1712" y2="1828"/>
<line x1="798" y1="1840" x2="968" y2="1914"/>
<line x1="798" y1="1840" x2="1292" y2="1950"/>
<line x1="798" y1="1840" x2="1102" y2="1734"/>
<line x1="1510" y1="1834" x2="1712" y2="1828"/>
<line x1="1510" y1="1834" x2="1292" y2="1950"/>
<line x1="968" y1="1914" x2="1292" y2="1950"/>
<line x1="968" y1="1914" x2="1510" y2="1834"/>
</g>
<g class="thick">
<line class="w1" x1="2856" y1="690" x2="1734" y2="510"/>
<line class="w1" x1="2856" y1="690" x2="1736" y2="754"/>
<line class="w1" x1="2856" y1="690" x2="1922" y2="814"/>
<line class="w1" x1="2856" y1="690" x2="1794" y2="1052"/>
<line class="w1" x1="2856" y1="690" x2="1416" y2="1042"/>
<line class="w1" x1="2856" y1="690" x2="536" y2="1668"/>
<line class="w1" x1="1736" y1="754" x2="2338" y2="696"/>
<line class="w1" x1="1416" y1="1042" x2="2252" y2="860"/>
<line class="w1" x1="208" y1="1380" x2="1416" y2="1042"/>
<line class="w1" x1="208" y1="1380" x2="632" y2="1202"/>
<line class="w1" x1="536" y1="1668" x2="912" y2="492"/>
<line class="w1 rr" x1="208" y1="1380" x2="1212" y2="1574"/>
<line class="w1 rr" x1="536" y1="1668" x2="1212" y2="1574"/>
<line class="w1 rr" x1="836" y1="1542" x2="1016" y2="1580"/>
<line class="w1 rr" x1="208" y1="1380" x2="836" y2="1542"/>
<line class="w2" x1="208" y1="1380" x2="2856" y2="690"/>
<line class="w2 rr" x1="536" y1="1668" x2="836" y2="1542"/>
<line class="w2 rr" x1="208" y1="1380" x2="1016" y2="1580"/>
<line class="w2 rr" x1="536" y1="1668" x2="1016" y2="1580"/>
<line class="w3 rr" x1="208" y1="1380" x2="536" y2="1668"/>
</g>
</g>
<g id="nodes">
<g id="n-reactive-oxygen-species" class="node g"><circle cx="992" cy="234" r="134"/><text x="992" y="234">reactive oxygen species</text></g>
<g id="n-seed-germination" class="node g"><circle cx="1350" cy="128" r="98"/><text x="1350" y="128">seed germination</text></g>
<g id="n-salt-stress" class="node g"><circle cx="912" cy="492" r="60"/><text x="912" y="492">salt stress</text></g>
<g id="n-abiotic-stress" class="node g"><circle cx="1150" cy="474" r="76"/><text x="1150" y="474">abiotic stress</text></g>
<g id="n-stress" class="node b"><circle cx="2162" cy="122" r="37"/><text x="2162" y="122">stress</text></g>
<g id="n-lipid-peroxidation" class="node b"><circle cx="1872" cy="248" r="96"/><text x="1872" y="248">lipid peroxidation</text></g>
<g id="n-water" class="node b"><circle cx="2280" cy="280" r="34"/><text x="2280" y="280">water</text></g>
<g id="n-soybean" class="node b"><circle cx="2468" cy="344" r="52"/><text x="2468" y="344">soybean</text></g>
<g id="n-photosynthesis" class="node b"><circle cx="1684" cy="336" r="86"/><text x="1684" y="336">photosynthesis</text></g>
<g id="n-tolerance" class="node b"><circle cx="1440" cy="380" r="56"/><text x="1440" y="380">tolerance</text></g>
<g id="n-gibberellic-acid" class="node b"><circle cx="2026" cy="392" r="86"/><text x="2026" y="392">gibberellic acid</text></g>
<g id="n-rice" class="node b"><circle cx="1734" cy="510" r="26"/><text x="1734" y="510">rice</text></g>
<g id="n-antioxidants" class="node b"><circle cx="1848" cy="644" r="70"/><text x="1848" y="644">antioxidants</text></g>
<g id="n-growth" class="node b"><circle cx="2154" cy="640" r="42"/><text x="2154" y="640">growth</text></g>
<g id="n-salicylic-acid" class="node b"><circle cx="1550" cy="676" r="74"/><text x="1550" y="676">salicylic acid</text></g>
<g id="n-salt-tolerance" class="node b"><circle cx="2338" cy="696" r="78"/><text x="2338" y="696">salt tolerance</text></g>
<g id="n-drought-stress" class="node b"><circle cx="1736" cy="754" r="84"/><text x="1736" y="754">drought stress</text></g>
<g id="n-gene-expression" class="node b"><circle cx="1070" cy="784" r="94"/><text x="1070" y="784">gene expression</text></g>
<g id="n-chlorophyll" class="node b"><circle cx="1274" cy="800" r="64"/><text x="1274" y="800">chlorophyll</text></g>
<g id="n-salinity" class="node b"><circle cx="1922" cy="814" r="58"/><text x="1922" y="814" style="font-size:35px">salinity</text></g>
<g id="n-plant" class="node b"><circle cx="2464" cy="834" r="34"/><text x="2464" y="834">plant</text></g>
<g id="n-yield" class="node b"><circle cx="2252" cy="860" r="30"/><text x="2252" y="860">yield</text></g>
<g id="n-drought" class="node b"><circle cx="1004" cy="996" r="48"/><text x="1004" y="996">drought</text></g>
<g id="n-antioxidant-enzymes" class="node b"><circle cx="1416" cy="1042" r="116"/><text x="1416" y="1042">antioxidant enzymes</text></g>
<g id="n-wheat" class="node b"><circle cx="1794" cy="1052" r="48"/><text x="1794" y="1052" style="font-size:33px">wheat</text></g>
<g id="n-seedling-growth" class="node b"><circle cx="2020" cy="1068" r="90"/><text x="2020" y="1068">seedling growth</text></g>
<g id="n-antioxidant" class="node b"><circle cx="964" cy="1270" r="66"/><text x="964" y="1270">antioxidant</text></g>
<g id="n-nanoparticles" class="node b"><circle cx="1270" cy="1276" r="78"/><text x="1270" y="1276">nanoparticles</text></g>
<g id="n-proline" class="node b"><circle cx="1562" cy="1252" r="42"/><text x="1562" y="1252">proline</text></g>
<g id="n-seed-coating" class="node b"><circle cx="1686" cy="1336" r="74"/><text x="1686" y="1336">seed coating</text></g>
<g id="n-maize" class="node b"><circle cx="1920" cy="1350" r="38"/><text x="1920" y="1350">maize</text></g>
<g id="n-seed-treatment" class="node b"><circle cx="2392" cy="1296" r="86"/><text x="2392" y="1296">seed treatment</text></g>
<g id="n-grain-yield" class="node b"><circle cx="2172" cy="1458" r="60"/><text x="2172" y="1458">grain yield</text></g>
<g id="n-seed-priming" class="node b"><circle cx="2856" cy="690" r="248"/><text x="2856" y="686" style="font-size:82px">seed priming</text></g>
<g id="n-oxidative-stress" class="node r"><circle cx="632" cy="1202" r="90"/><text x="632" y="1202">oxidative stress</text></g>
<g id="n-seeds" class="node r"><circle cx="1042" cy="1474" r="36"/><text x="1042" y="1474">seeds</text></g>
<g id="n-osmopriming" class="node r"><circle cx="836" cy="1542" r="76"/><text x="836" y="1542">osmopriming</text></g>
<g id="n-seed" class="node r"><circle cx="1016" cy="1580" r="50"/><text x="1016" y="1580" style="font-size:41px">seed</text></g>
<g id="n-emergence" class="node r"><circle cx="1212" cy="1574" r="66"/><text x="1212" y="1574">emergence</text></g>
<g id="n-dormancy" class="node r"><circle cx="1798" cy="1598" r="58"/><text x="1798" y="1598">dormancy</text></g>
<g id="n-temperature" class="node r"><circle cx="1524" cy="1676" r="72"/><text x="1524" y="1676">temperature</text></g>
<g id="n-vigour" class="node r"><circle cx="1102" cy="1734" r="38"/><text x="1102" y="1734">vigour</text></g>
<g id="n-tomato" class="node r"><circle cx="1322" cy="1748" r="42"/><text x="1322" y="1748">tomato</text></g>
<g id="n-melatonin" class="node r"><circle cx="798" cy="1840" r="58"/><text x="798" y="1840">melatonin</text></g>
<g id="n-vigor" class="node r"><circle cx="1510" cy="1834" r="32"/><text x="1510" y="1834">vigor</text></g>
<g id="n-seed-quality" class="node r"><circle cx="1712" cy="1828" r="70"/><text x="1712" y="1828">seed quality</text></g>
<g id="n-hydropriming" class="node r"><circle cx="968" cy="1914" r="76"/><text x="968" y="1914">hydropriming</text></g>
<g id="n-polyethylene-glycol" class="node r"><circle cx="1292" cy="1950" r="106"/><text x="1292" y="1950">polyethylene glycol</text></g>
<g id="n-germination" class="node r"><circle cx="208" cy="1380" r="190"/><text x="208" y="1376" style="font-size:71px">germination</text></g>
<g id="n-priming" class="node r"><circle cx="536" cy="1668" r="136"/><text x="536" y="1664" style="font-size:80px">priming</text></g>
</g>
</svg>
